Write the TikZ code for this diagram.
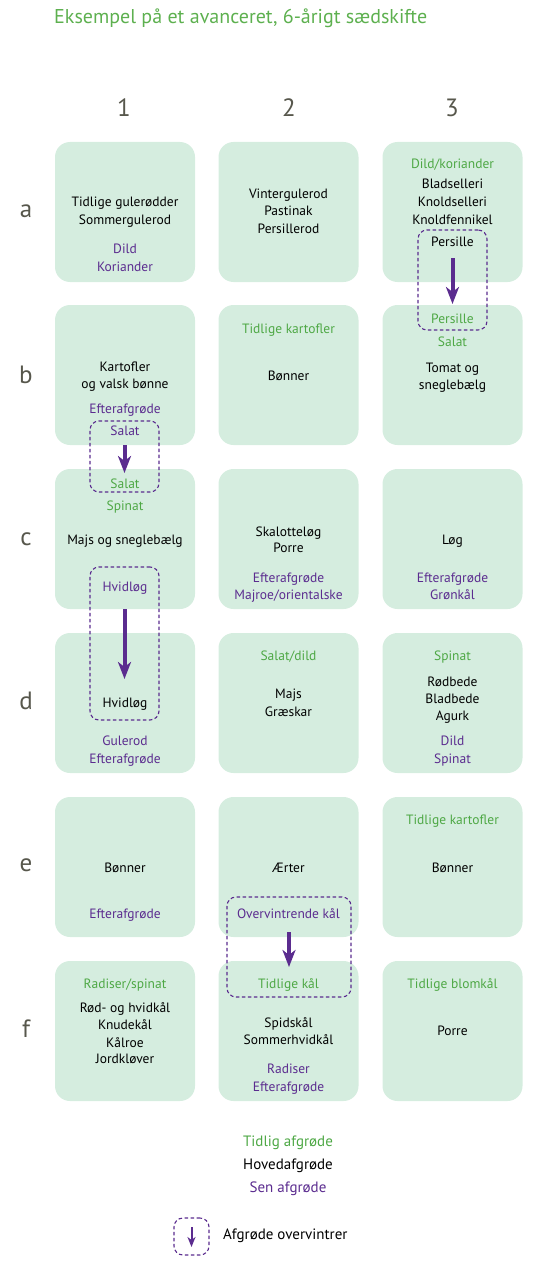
\documentclass[tikz,border=0pt]{standalone}
\usepackage{fontspec}
\setmainfont{PT Sans}
\usetikzlibrary{arrows.meta}
\definecolor{boxfill}{HTML}{D5EDDF}
\definecolor{cgreen}{HTML}{4EA845}
\definecolor{ctitle}{HTML}{5DB04F}
\definecolor{cpurple}{HTML}{5B2C8F}
\definecolor{cgrey}{HTML}{57574C}
\tikzset{
 bed/.style={fill=boxfill, rounded corners=15pt, minimum width=140pt, minimum height=140pt, inner sep=0pt, draw=none},
 lbl/.style={anchor=base, inner sep=0pt, font=\fontsize{13.5}{14}\selectfont},
 early/.style={lbl, text=cgreen},
 main/.style={lbl, text=black},
 late/.style={lbl, text=cpurple},
 legendtxt/.style={inner sep=0pt, font=\fontsize{15}{16}\selectfont},
 winterbox/.style={draw=cpurple, dash pattern=on 3.5pt off 2.5pt, line width=1.1pt, rounded corners=9pt, inner sep=0pt},
 winterarrow/.style={draw=cpurple, line width=4pt, -{Stealth[length=17pt,width=13pt,inset=5pt]}},
 head/.style={inner sep=0pt, text=cgrey, font=\fontsize{25}{25}\selectfont},
}
\newcommand\cl[5]{\node[#1] (#2) at (#3,#4+5) {#5};}
\begin{document}
\begin{tikzpicture}[x=1pt,y=-1pt]
\useasboundingbox (0,0) rectangle (540,1284);
% title
\node[anchor=west, inner sep=0pt, text=ctitle, font=\fontsize{20}{20}\selectfont] (title) at (54,18) {Eksempel på et avanceret, 6-årigt sædskifte};
% headers
\node[head] (h1) at (124,108) {1};
\node[head] (h2) at (289,108) {2};
\node[head] (h3) at (452,108) {3};
\node[head] (ra) at (26,211) {a};
\node[head] (rb) at (26,375) {b};
\node[head] (rc) at (26,539) {c};
\node[head] (rd) at (26,701) {d};
\node[head] (re) at (26,865) {e};
\node[head] (rf) at (26,1029) {f};
% beds
\foreach \r/\y in {a/212,b/375,c/539,d/703,e/867,f/1031}{
  \node[bed] (\r1) at (125,\y) {};
  \node[bed] (\r2) at (288.5,\y) {};
  \node[bed] (\r3) at (452.5,\y) {};
}
% dashed overwinter boxes
\node[winterbox, minimum width=69pt, minimum height=100pt] (wa3) at (452.5,280) {};
\node[winterbox, minimum width=69pt, minimum height=71pt] (wb1) at (124.5,456.5) {};
\node[winterbox, minimum width=69pt, minimum height=153pt] (wc1) at (124.5,643.5) {};
\node[winterbox, minimum width=124pt, minimum height=100pt] (we2) at (289,947) {};
% a1
\cl{main}{a1t1}{125}{202}{Tidlige gulerødder}
\cl{main}{a1t2}{125}{219}{Sommergulerod}
\cl{late}{a1t3}{125}{248}{Dild}
\cl{late}{a1t4}{125}{266}{Koriander}
% a2
\cl{main}{a2t1}{288.5}{193}{Vintergulerod}
\cl{main}{a2t2}{288.5}{210}{Pastinak}
\cl{main}{a2t3}{288.5}{228}{Persillerod}
% a3
\cl{early}{a3t1}{452.5}{164}{Dild/koriander}
\cl{main}{a3t2}{452.5}{184}{Bladselleri}
\cl{main}{a3t3}{452.5}{202}{Knoldselleri}
\cl{main}{a3t4}{452.5}{219}{Knoldfennikel}
\cl{main}{a3t5}{452.5}{241}{Persille}
% b1
\cl{main}{b1t1}{125}{366}{Kartofler}
\cl{main}{b1t2}{125}{383}{og valsk bønne}
\cl{late}{b1t3}{125}{408}{Efterafgrøde}
\cl{late}{b1t4}{125}{430}{Salat}
% b2
\cl{early}{b2t1}{288.5}{328}{Tidlige kartofler}
\cl{main}{b2t2}{288.5}{375}{Bønner}
% b3
\cl{early}{b3t1}{452.5}{318}{Persille}
\cl{early}{b3t2}{452.5}{341}{Salat}
\cl{main}{b3t3}{452.5}{367}{Tomat og}
\cl{main}{b3t4}{452.5}{384}{sneglebælg}
% c1
\cl{early}{c1t1}{125}{483}{Salat}
\cl{early}{c1t2}{125}{505}{Spinat}
\cl{main}{c1t3}{125}{539}{Majs og sneglebælg}
\cl{late}{c1t4}{125}{586}{Hvidløg}
% c2
\cl{main}{c2t1}{288.5}{531}{Skalotteløg}
\cl{main}{c2t2}{288.5}{547}{Porre}
\cl{late}{c2t3}{288.5}{577}{Efterafgrøde}
\cl{late}{c2t4}{288.5}{594}{Majroe/orientalske}
% c3
\cl{main}{c3t1}{452.5}{539}{Løg}
\cl{late}{c3t2}{452.5}{577}{Efterafgrøde}
\cl{late}{c3t3}{452.5}{594}{Grønkål}
% d1
\cl{main}{d1t1}{125}{702}{Hvidløg}
\cl{late}{d1t2}{125}{740}{Gulerod}
\cl{late}{d1t3}{125}{758}{Efterafgrøde}
% d2
\cl{early}{d2t1}{288.5}{655}{Salat/dild}
\cl{main}{d2t2}{288.5}{693}{Majs}
\cl{main}{d2t3}{288.5}{711}{Græskar}
% d3
\cl{early}{d3t1}{452.5}{655}{Spinat}
\cl{main}{d3t2}{452.5}{681}{Rødbede}
\cl{main}{d3t3}{452.5}{698}{Bladbede}
\cl{main}{d3t4}{452.5}{715}{Agurk}
\cl{late}{d3t5}{452.5}{740}{Dild}
\cl{late}{d3t6}{452.5}{758}{Spinat}
% e1
\cl{main}{e1t1}{125}{867}{Bønner}
\cl{late}{e1t2}{125}{913}{Efterafgrøde}
% e2
\cl{main}{e2t1}{288.5}{867}{Ærter}
\cl{late}{e2t2}{288.5}{913}{Overvintrende kål}
% e3
\cl{early}{e3t1}{452.5}{819}{Tidlige kartofler}
\cl{main}{e3t2}{452.5}{867}{Bønner}
% f1
\cl{early}{f1t1}{125}{983}{Radiser/spinat}
\cl{main}{f1t2}{125}{1007}{Rød- og hvidkål}
\cl{main}{f1t3}{125}{1024}{Knudekål}
\cl{main}{f1t4}{125}{1042}{Kålroe}
\cl{main}{f1t5}{125}{1058}{Jordkløver}
% f2
\cl{early}{f2t1}{288.5}{983}{Tidlige kål}
\cl{main}{f2t2}{288.5}{1022}{Spidskål}
\cl{main}{f2t3}{288.5}{1039}{Sommerhvidkål}
\cl{late}{f2t4}{288.5}{1068}{Radiser}
\cl{late}{f2t5}{288.5}{1086}{Efterafgrøde}
% f3
\cl{early}{f3t1}{452.5}{983}{Tidlige blomkål}
\cl{main}{f3t2}{452.5}{1030}{Porre}
% arrows
\coordinate (aa1) at (452.5,258); \coordinate (aa2) at (452.5,304);
\coordinate (ab1) at (124.5,445); \coordinate (ab2) at (124.5,473);
\coordinate (ac1) at (124.5,609); \coordinate (ac2) at (124.5,679);
\coordinate (ae1) at (289,932); \coordinate (ae2) at (289,967);
\draw[winterarrow] (aa1) -- (aa2);
\draw[winterarrow] (ab1) -- (ab2);
\draw[winterarrow] (ac1) -- (ac2);
\draw[winterarrow] (ae1) -- (ae2);
% legend
\node[legendtxt, text=cgreen] (lg1) at (288,1143) {Tidlig afgrøde};
\node[legendtxt, text=black] (lg2) at (288,1166) {Hovedafgrøde};
\node[legendtxt, text=cpurple] (lg3) at (288,1189) {Sen afgrøde};
\node[winterbox, minimum width=35pt, minimum height=37pt] (lgbox) at (191.5,1236.5) {};
\coordinate (la1) at (191.5,1227); \coordinate (la2) at (191.5,1247);
\draw[draw=cpurple, line width=2pt, -{Stealth[length=10pt,width=8pt,inset=3pt]}] (la1) -- (la2);
\node[legendtxt, anchor=west, text=black] (lg4) at (223,1236) {Afgrøde overvintrer};
\end{tikzpicture}
\end{document}
